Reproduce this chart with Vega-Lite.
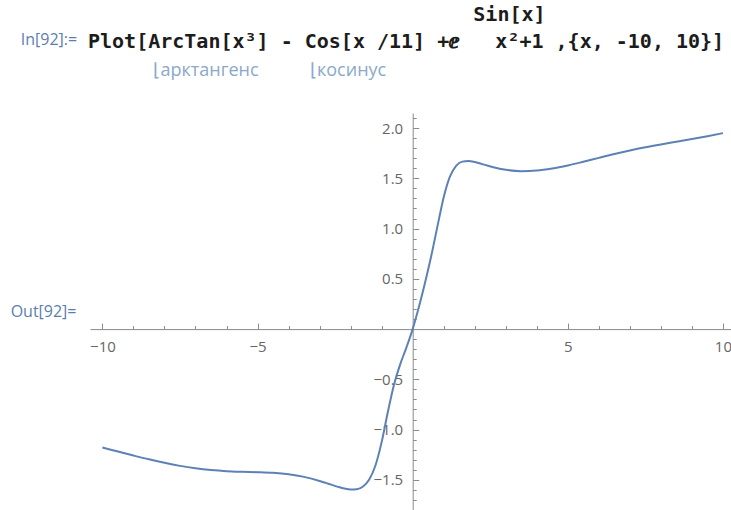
{
  "$schema": "https://vega.github.io/schema/vega-lite/v6.json",
  "width": 641,
  "height": 397,
  "autosize": {"type": "none"},
  "padding": {"left": 90, "top": 113, "right": 0, "bottom": 0},
  "background": "white",
  "config": {"view": {"stroke": null}},
  "title": {
    "text": [
      "\u200b\u00a0\u00a0\u00a0\u00a0\u00a0\u00a0\u00a0\u00a0\u00a0\u00a0\u00a0\u00a0\u00a0\u00a0\u00a0\u00a0\u00a0\u00a0\u00a0\u00a0\u00a0\u00a0\u00a0\u00a0\u00a0\u00a0\u00a0\u00a0\u00a0\u00a0\u00a0\u00a0Sin[x]",
      "Plot[ArcTan[x³] - Cos[x /11] +ⅇ\u00a0\u00a0\u00a0x²+1 ,{x, -10, 10}]"
    ],
    "subtitle": "\u200b\u00a0\u00a0\u00a0\u00a0\u00a0\u00a0\u00a0\u00a0\u00a0\u00a0\u00a0\u00a0\u00a0\u00a0⌊арктангенс\u00a0\u00a0\u00a0\u00a0\u00a0\u00a0\u00a0\u00a0\u00a0\u00a0\u00a0⌊косинус",
    "anchor": "start",
    "frame": "group",
    "dx": -2,
    "offset": -49,
    "font": "DejaVu Sans Mono",
    "fontWeight": "bold",
    "fontSize": 20,
    "color": "#1c1c1c",
    "lineHeight": 27,
    "subtitleFont": "Open Sans",
    "subtitleFontSize": 18,
    "subtitleColor": "#8aa9c9",
    "subtitlePadding": 10
  },
  "data": {
    "values": [
      {"x": -10, "y": -1.1789}, {"x": -9.5, "y": -1.2185}, {"x": -9, "y": -1.258},
      {"x": -8.5, "y": -1.296}, {"x": -8, "y": -1.3309}, {"x": -7.5, "y": -1.3611},
      {"x": -7, "y": -1.3852}, {"x": -6.5, "y": -1.4024}, {"x": -6, "y": -1.4135},
      {"x": -5.5, "y": -1.4195}, {"x": -5, "y": -1.4237}, {"x": -4.5, "y": -1.4302},
      {"x": -4, "y": -1.4443}, {"x": -3.5, "y": -1.4705}, {"x": -3, "y": -1.5108},
      {"x": -2.8, "y": -1.5302}, {"x": -2.6, "y": -1.5504}, {"x": -2.4, "y": -1.5699},
      {"x": -2.2, "y": -1.5865}, {"x": -2, "y": -1.5962}, {"x": -1.8, "y": -1.5928},
      {"x": -1.6, "y": -1.5656}, {"x": -1.4, "y": -1.4964}, {"x": -1.2, "y": -1.3577},
      {"x": -1, "y": -1.1247}, {"x": -0.8, "y": -0.8249}, {"x": -0.6, "y": -0.551},
      {"x": -0.4, "y": -0.3484}, {"x": -0.2, "y": -0.1817}, {"x": 0, "y": 0},
      {"x": 0.2, "y": 0.2187}, {"x": 0.4, "y": 0.4635}, {"x": 0.6, "y": 0.7289},
      {"x": 0.8, "y": 1.0245}, {"x": 1, "y": 1.3126}, {"x": 1.2, "y": 1.5173},
      {"x": 1.4, "y": 1.6244}, {"x": 1.6, "y": 1.6661}, {"x": 1.8, "y": 1.6725},
      {"x": 2, "y": 1.6624}, {"x": 2.2, "y": 1.6456}, {"x": 2.4, "y": 1.6273},
      {"x": 2.6, "y": 1.6105}, {"x": 2.8, "y": 1.5961}, {"x": 3, "y": 1.5849},
      {"x": 3.5, "y": 1.5715}, {"x": 4, "y": 1.577}, {"x": 4.5, "y": 1.5974},
      {"x": 5, "y": 1.6281}, {"x": 5.5, "y": 1.6649}, {"x": 6, "y": 1.7038},
      {"x": 6.5, "y": 1.7419}, {"x": 7, "y": 1.7768}, {"x": 7.5, "y": 1.8085},
      {"x": 8, "y": 1.8372}, {"x": 8.5, "y": 1.8641}, {"x": 9, "y": 1.8909},
      {"x": 9.5, "y": 1.9191}, {"x": 10, "y": 1.95}
    ]
  },
  "layer": [
    {
      "mark": {"type": "line", "color": "#5e81b5", "strokeWidth": 2, "interpolate": "monotone"},
      "encoding": {
        "x": {
          "field": "x", "type": "quantitative",
          "scale": {"domain": [-10.4, 10.26], "nice": false, "zero": false},
          "axis": {
            "orient": "bottom", "offset": -180.9, "values": [-10, -5, 5, 10], "format": "d",
            "title": null, "grid": false,
            "domainColor": "#8a8a8a", "tickColor": "#8a8a8a", "tickSize": -6, "tickWidth": 1,
            "labelFont": "Open Sans", "labelFontSize": 15, "labelColor": "#666666",
            "labelPadding": 16, "labelFlush": false, "labelOverlap": false
          }
        },
        "y": {
          "field": "y", "type": "quantitative",
          "scale": {"domain": [-1.8, 2.15], "nice": false, "zero": false},
          "axis": {
            "orient": "left", "offset": -322.7, "values": [-1.5, -1, -0.5, 0.5, 1, 1.5, 2], "format": ".1f",
            "grid": false,
            "domainColor": "#8a8a8a", "tickColor": "#8a8a8a", "tickSize": -6, "tickWidth": 1,
            "labelFont": "Open Sans", "labelFontSize": 15, "labelColor": "#666666",
            "labelPadding": 16, "labelFlush": false, "labelOverlap": false,
            "title": "In[92]:=", "titleAngle": 0, "titleX": -336, "titleY": -69,
            "titleAlign": "right", "titleBaseline": "alphabetic",
            "titleFont": "Open Sans", "titleFontSize": 16, "titleFontWeight": "normal", "titleColor": "#5b7fad"
          }
        }
      }
    },
    {
      "mark": {"type": "line", "strokeOpacity": 0},
      "encoding": {
        "x": {
          "field": "x", "type": "quantitative",
          "scale": {"domain": [-10.4, 10.26], "nice": false, "zero": false},
          "axis": {
            "orient": "bottom", "offset": -180.9,
            "values": [-9, -8, -7, -6, -4, -3, -2, -1, 1, 2, 3, 4, 6, 7, 8, 9],
            "labels": false, "domain": false, "grid": false,
            "tickColor": "#8a8a8a", "tickSize": -3.5, "tickWidth": 1,
            "title": "Out[92]=", "titleAngle": 0, "titleX": -14, "titleY": -13,
            "titleAlign": "right", "titleBaseline": "alphabetic",
            "titleFont": "Open Sans", "titleFontSize": 16, "titleFontWeight": "normal", "titleColor": "#5b7fad"
          }
        },
        "y": {
          "field": "y", "type": "quantitative",
          "scale": {"domain": [-1.8, 2.15], "nice": false, "zero": false},
          "axis": {
            "orient": "left", "offset": -322.7,
            "values": [-1.7, -1.6, -1.4, -1.3, -1.2, -1.1, -0.9, -0.8, -0.7, -0.6, -0.4, -0.3, -0.2, -0.1, 0.1, 0.2, 0.3, 0.4, 0.6, 0.7, 0.8, 0.9, 1.1, 1.2, 1.3, 1.4, 1.6, 1.7, 1.8, 1.9, 2.1],
            "labels": false, "domain": false, "grid": false,
            "tickColor": "#8a8a8a", "tickSize": -3.5, "tickWidth": 1,
            "title": null
          }
        }
      }
    }
  ],
  "resolve": {"axis": {"x": "independent", "y": "independent"}}
}
